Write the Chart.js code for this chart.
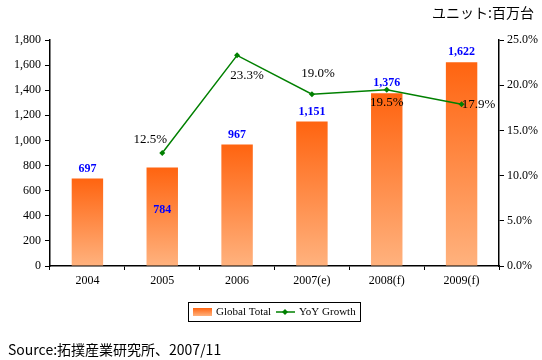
<!DOCTYPE html>
<html>
<head>
<meta charset="utf-8">
<script src="https://cdn.jsdelivr.net/npm/chart.js@4.4.0/dist/chart.umd.min.js"></script>
<style>
  body { margin: 0; background: #fff; }
  #wrap { position: relative; width: 542px; height: 360px; }
  #unit { position: absolute; right: 8px; top: 2px; font: 14px "Noto Sans CJK JP", sans-serif; color: #000; }
  #source { position: absolute; left: 8px; top: 339px; font: 14px "Noto Sans CJK JP", sans-serif; color: #000; }
</style>
</head>
<body>
<div id="wrap">
  <canvas id="chart" width="542" height="360"></canvas>
  <div id="unit">ユニット:百万台</div>
  <div id="source">Source:拓撲産業研究所、2007/11</div>
</div>
<script>
// chart data
const years = ['2004', '2005', '2006', '2007(e)', '2008(f)', '2009(f)'];
const globalTotal = [697, 784, 967, 1151, 1376, 1622];
const yoyGrowth = [null, 12.5, 23.3, 19.0, 19.5, 17.9];

// label placement for the growth values (dx, dy from the point)
const growthLabelPos = [null, [-12, -13], [10, 20], [6, -21], [0, 13], [17, 0]];
// label placement for the bar values (dy from the bar top)
const barLabelPos = [-10, 42, -10, -10, -10, -10];

const serif = '"Liberation Serif", "DejaVu Serif", serif';

function barGradient(ctx) {
    const chart = ctx.chart;
    if (!chart.chartArea || ctx.raw == null) return '#FF7A30';
    const y = chart.scales.y;
    const top = y.getPixelForValue(ctx.raw);
    const bottom = y.getPixelForValue(0);
    const g = chart.ctx.createLinearGradient(0, top, 0, bottom);
    g.addColorStop(0, '#FF6410');
    g.addColorStop(1, '#FFB27E');
    return g;
}

const labelPlugin = {
    id: 'valueLabels',
    afterDatasetsDraw(chart) {
        const ctx = chart.ctx;
        ctx.save();
        ctx.textAlign = 'center';
        ctx.textBaseline = 'middle';
        // bar values
        ctx.font = 'bold 12px ' + serif;
        ctx.fillStyle = '#0000FF';
        chart.getDatasetMeta(0).data.forEach((bar, i) => {
            ctx.fillText(globalTotal[i].toLocaleString('en-US'), bar.x, bar.y + barLabelPos[i]);
        });
        // growth values
        ctx.font = '13px ' + serif;
        ctx.fillStyle = '#000';
        chart.getDatasetMeta(1).data.forEach((pt, i) => {
            if (yoyGrowth[i] == null) return;
            const p = growthLabelPos[i];
            ctx.fillText(yoyGrowth[i].toFixed(1) + '%', pt.x + p[0], pt.y + p[1]);
        });
        ctx.restore();
    }
};

const legendPlugin = {
    id: 'boxLegend',
    afterDraw(chart) {
        const ctx = chart.ctx;
        ctx.save();
        ctx.strokeStyle = '#000';
        ctx.lineWidth = 1;
        ctx.strokeRect(188.5, 302.5, 172, 19);
        const g = ctx.createLinearGradient(0, 308, 0, 316);
        g.addColorStop(0, '#FF6410');
        g.addColorStop(1, '#FFB27E');
        ctx.fillStyle = g;
        ctx.fillRect(193, 308, 19, 8);
        ctx.font = '11px ' + serif;
        ctx.fillStyle = '#000';
        ctx.textBaseline = 'middle';
        ctx.fillText('Global Total', 216, 312);
        ctx.strokeStyle = '#008000';
        ctx.lineWidth = 1.5;
        ctx.beginPath();
        ctx.moveTo(276, 312);
        ctx.lineTo(295, 312);
        ctx.stroke();
        ctx.fillStyle = '#008000';
        ctx.beginPath();
        ctx.moveTo(285, 309);
        ctx.lineTo(288, 312);
        ctx.lineTo(285, 315);
        ctx.lineTo(282, 312);
        ctx.closePath();
        ctx.fill();
        ctx.fillStyle = '#000';
        ctx.fillText('YoY Growth', 299, 312);
        ctx.restore();
    }
};

new Chart(document.getElementById('chart').getContext('2d'), {
    data: {
        labels: years,
        datasets: [{
            type: 'bar',
            label: 'Global Total',
            data: globalTotal,
            backgroundColor: barGradient,
            categoryPercentage: 1,
            barPercentage: 0.42,
            yAxisID: 'y',
            order: 2
        }, {
            type: 'line',
            label: 'YoY Growth',
            data: yoyGrowth,
            borderColor: '#008000',
            borderWidth: 1.5,
            backgroundColor: '#008000',
            pointStyle: 'rectRot',
            pointRadius: 3,
            pointBorderWidth: 0,
            tension: 0,
            yAxisID: 'y1',
            order: 1
        }]
    },
    options: {
        responsive: false,
        animation: false,
        layout: { padding: { top: 40, left: 0, right: 0, bottom: 0 } },
        plugins: {
            legend: { display: false },
            tooltip: { enabled: false }
        },
        scales: {
            x: {
                grid: { display: true, drawOnChartArea: false, tickLength: 4, color: '#000' },
                border: { color: '#000', width: 1.5 },
                ticks: { color: '#000', font: { family: serif, size: 12 }, padding: 4 },
                afterFit: (s) => { s.height = 94; }
            },
            y: {
                position: 'left',
                min: 0,
                max: 1800,
                ticks: {
                    stepSize: 200,
                    color: '#000',
                    font: { family: serif, size: 12 },
                    padding: 4,
                    callback: (v) => v.toLocaleString('en-US')
                },
                grid: { drawOnChartArea: false, tickLength: 5, color: '#000' },
                border: { color: '#000', width: 1.5 },
                afterFit: (s) => { s.width = 50; }
            },
            y1: {
                position: 'right',
                min: 0,
                max: 25,
                ticks: {
                    stepSize: 5,
                    color: '#000',
                    font: { family: serif, size: 12 },
                    padding: 3,
                    callback: (v) => v.toFixed(1) + '%'
                },
                grid: { drawOnChartArea: false, tickLength: 5, color: '#000' },
                border: { color: '#000', width: 1.5 },
                afterFit: (s) => { s.width = 43; }
            }
        }
    },
    plugins: [labelPlugin, legendPlugin]
});
</script>
</body>
</html>
